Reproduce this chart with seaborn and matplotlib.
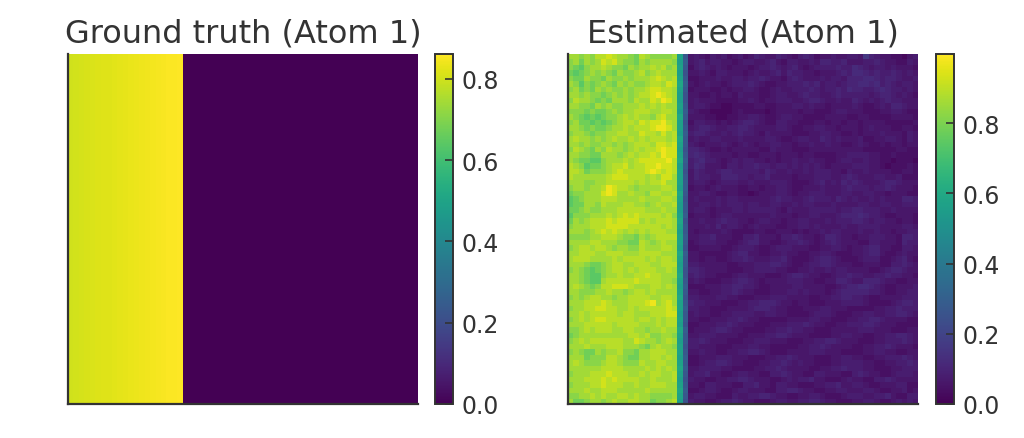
import numpy as np
import pandas as pd
import matplotlib
matplotlib.use("Agg")
import matplotlib.pyplot as plt
import seaborn as sns

# ---------------- data ----------------
N_ROWS = 64
N_COLS = 64

# Ground truth: the first 21 columns carry a value, the rest are zero
GT_COLUMN_VALUES = [0.800, 0.803, 0.806, 0.809, 0.812, 0.815, 0.818, 0.821,
                    0.824, 0.827, 0.830, 0.834, 0.837, 0.840, 0.843, 0.846,
                    0.849, 0.852, 0.855, 0.858, 0.861]
GT_VMAX = 0.8615

# Estimated: bright block (cols 0-19), edge columns (20, 21), dark block (cols 22-63)
BRIGHT_LEVELS = [0.62, 0.66, 0.70, 0.74, 0.78, 0.82, 0.86, 0.89, 0.93, 0.97]
TEAL_LEVELS = [0.47, 0.49, 0.51, 0.53, 0.55, 0.57, 0.59, 0.61, 0.63, 0.65]
BLUE_LEVELS = [0.19, 0.21, 0.23, 0.25, 0.27, 0.29, 0.31, 0.33, 0.35, 0.37]
DARK_LEVELS = [0.00, 0.02, 0.04, 0.06, 0.08, 0.10, 0.12, 0.14, 0.16, 0.18]
EST_VMAX = 0.997

EST_BRIGHT = [
    "66565778766547655556", "56465687865546566665", "54356676554656676756",
    "43456565465567567666", "54465546556566678767", "65354565465655677687",
    "56454656556566788776", "66565545656567789876", "57665454666576687986",
    "66554656556667676766", "55545445656677766776", "65434345567676657866",
    "56443434567768788976", "66545445667677789986", "56654556677668776867",
    "67665656766767677767", "66565566565677768878", "57654657665676778988",
    "66554466656767787988", "65443356667678888897", "76534456778677889887",
    "77645556787777898787", "76666667888777676886", "66655667777767677866",
    "56656679877656666776", "45566689866766577667", "34566677766667666776",
    "34466576667766567667", "44565566677777666766", "35556667678787777675",
    "46567778788886767776", "56667778888777777676", "66656787876767677766",
    "55556677765546567777", "66667766655447656766", "56776776566557666776",
    "66777667776667777666", "67776666767777676776", "66654456776677766777",
    "56543456776767776676", "66543356676677877666", "66543367777787777665",
    "67654577888766677676", "66555667665677676666", "56567766566777766776",
    "66677787666777896786", "56677887766767777787", "66767777767766677788",
    "56767887777767767677", "66677777677776667677", "55676777667766566766",
    "45666666666776755665", "56767777776687665676", "66676667776665467665",
    "56544656675546677766", "66645557765446677676", "67655567765557667766",
    "66666677776666767676", "56667778777667677667", "66677787877776676667",
    "56667787776676677766", "66676677766666766666", "55667676677676655556",
    "64456656766776645567",
]
EST_TEAL = "5454565445465546545645554654456545546545654565545465455456545654"
EST_BLUE = "4543454334543454434543455434453445435443345434544354434545434543"
EST_DARK = [
    "343243423423543354324542334334438543322134",
    "345344332344334532443343554453334454332243",
    "245434323332344543453234444544654344343332",
    "334324433323433453544332333454665454454343",
    "223334334434454332454333434435556654554334",
    "323433234445432233444545344345566564543443",
    "233322323344322343344454344546554456544343",
    "332232332433322344334544334544444345543432",
    "343332222334323344433455433433543434544333",
    "344322112222332233344343323333432234355433",
    "432211112322221233332332223443332223344322",
    "333221122334432234433222233332233222233332",
    "244332323455432244332223323323323333222223",
    "345543344554333344322334433233323433322332",
    "455433434544324333322233443322323334333243",
    "343344333433334432234433543433342233443243",
    "432333432343233443323343343322343223233233",
    "554322323333322433322233333333332222223322",
    "565433332332233323332332222334444332232222",
    "456443234344332323343343322344334332212221",
    "465333244344544344343434323333444332122232",
    "354334554444435433433434443324334333322332",
    "354433555443445333323334443345433344334222",
    "344323444334333444322234534354543334554333",
    "233234333223323344322333433345444344543332",
    "334432233221233344323344433344334433233322",
    "343334344333333454433454443543433434333554",
    "334434344434433443343443334333344334433444",
    "344323334434444432433344444344554443343333",
    "233323443333333433323344333455565443223332",
    "334334544332344332334433343444554344332332",
    "333435344323433322334434333343344443333443",
    "323333432222332233323233434433343343323344",
    "334453332244533324454332355433233444332554",
    "234443322345533223445432345433322443332544",
    "223333223444322344433322334432334553322443",
    "332222234553322334332233443222334553223433",
    "332332234454333445322234554322234442234532",
    "443333322333444554322344554333223332244543",
    "554333322233444433223343343443333223455433",
    "454332223443332223455433223445443344544332",
    "343222334554323333444332233554335554332233",
    "222333445544322333344333322345566543223334",
    "332233445433222333443433323455555443223344",
    "443334433222333444333322334455443223333444",
    "544333222334455543323322233344443222234554",
    "443322233334555433222333443332222233445444",
    "343322334444334433222234443222334433445543",
    "332233344543322222333344332223344554333322",
    "223334454333222333444543322334445543332222",
    "233345543322223344544332223333344433322233",
    "334443333223334455433322223344332233445543",
    "445433322233444333222334455433322233444543",
    "443332223334433222223344543333223344543332",
    "334332233445543222333344433322223344332233",
    "223334443332223344543332223344332233444543",
    "223445543322233445434332223344443322334454",
    "334444332222334454333322334454443322233444",
    "344533223443322445433224433322454332234443",
    "433223344554333223434453322234332244543333",
    "332443332244533244332223344533443223334422",
    "223443223443332244554332233443334432233423",
    "344332224334455433223344322234443344532244",
    "433223445433222344334455433222334432234343",
]

# ---------------- build matrices ----------------
gt = np.zeros((N_ROWS, N_COLS))
for j, v in enumerate(GT_COLUMN_VALUES):
    gt[:, j] = v

est = np.zeros((N_ROWS, N_COLS))
for i in range(N_ROWS):
    rb = EST_BRIGHT[i]
    rd = EST_DARK[i]
    if len(rb) != 20 or len(rd) != 42:
        raise ValueError(f"row {i}: bright {len(rb)}, dark {len(rd)}")
    for j, c in enumerate(rb):
        est[i, j] = BRIGHT_LEVELS[int(c)]
    est[i, 20] = TEAL_LEVELS[int(EST_TEAL[i])]
    est[i, 21] = BLUE_LEVELS[int(EST_BLUE[i])]
    for j, c in enumerate(rd):
        est[i, 22 + j] = DARK_LEVELS[int(c)]

gt_df = pd.DataFrame(gt)
est_df = pd.DataFrame(est)

# ---------------- style ----------------
TXT = "#333333"
plt.rcParams.update({
    "font.family": ["DejaVu Sans"],
    "text.color": TXT,
    "axes.labelcolor": TXT,
    "xtick.color": TXT,
    "ytick.color": TXT,
    "axes.edgecolor": TXT,
})

W, H = 1024, 439
fig = plt.figure(figsize=(W / 100, H / 100), dpi=100)


def fx(px):
    return px / W


def fy(top, height):
    return (H - top - height) / H


ax1 = fig.add_axes([fx(68), fy(55, 350), fx(350), 350 / H])
cax1 = fig.add_axes([fx(435), fy(55, 350), fx(18), 350 / H])
ax2 = fig.add_axes([fx(568), fy(55, 350), fx(350), 350 / H])
cax2 = fig.add_axes([fx(936), fy(55, 350), fx(18), 350 / H])

panels = [
    (ax1, cax1, gt_df, GT_VMAX, "Ground truth (Atom 1)"),
    (ax2, cax2, est_df, EST_VMAX, "Estimated (Atom 1)"),
]

for ax, cax, df, vmax, title in panels:
    sns.heatmap(df, ax=ax, cbar_ax=cax, cmap="viridis", vmin=0.0, vmax=vmax,
                xticklabels=False, yticklabels=False)
    ax.set_title(title, fontsize=23, color=TXT, pad=9)
    ax.tick_params(left=False, bottom=False)
    for side in ["left", "bottom"]:
        ax.spines[side].set_visible(True)
        ax.spines[side].set_color(TXT)
        ax.spines[side].set_linewidth(1.6)
    for side in ["top", "right"]:
        ax.spines[side].set_visible(False)
    cb = ax.collections[0].colorbar
    cb.set_ticks([0.0, 0.2, 0.4, 0.6, 0.8])
    cb.ax.yaxis.set_major_formatter(matplotlib.ticker.FormatStrFormatter("%.1f"))
    cb.ax.tick_params(direction="in", length=6, width=1.2, labelsize=17,
                      colors=TXT, pad=6)
    cb.outline.set_visible(True)
    cb.outline.set_linewidth(1.4)
    cb.outline.set_edgecolor(TXT)

fig.savefig("out.png", dpi=100)
